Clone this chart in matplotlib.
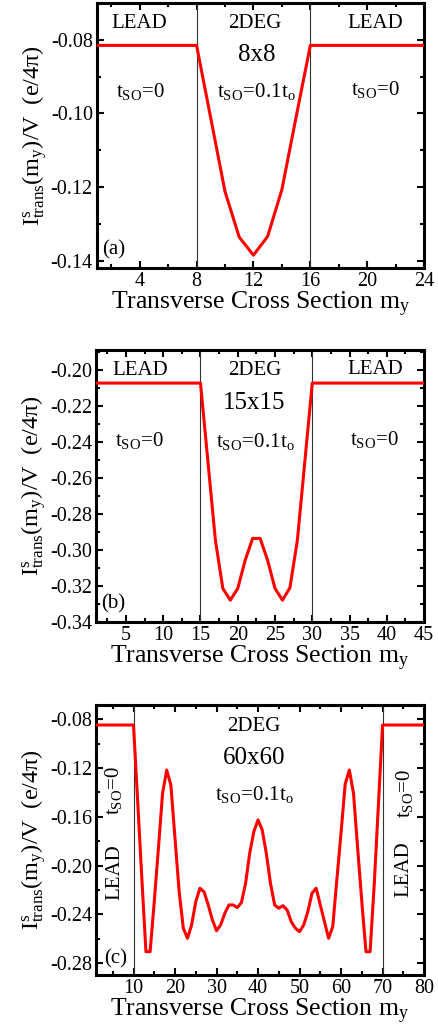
import numpy as np
import matplotlib
matplotlib.use('Agg')
import matplotlib.pyplot as plt
from matplotlib.ticker import MultipleLocator

plt.rcParams['font.family'] = 'Liberation Serif'
plt.rcParams['mathtext.fontset'] = 'custom'
plt.rcParams['mathtext.rm'] = 'Liberation Serif'
plt.rcParams['mathtext.it'] = 'Liberation Serif:italic'
plt.rcParams['axes.unicode_minus'] = False

# spin current across the transverse section, 8x8 sample
my_a = np.arange(1, 25)
I_a = [-0.0815, -0.0815, -0.0815, -0.0815, -0.0815, -0.0815, -0.0815, -0.0815,
       -0.1013, -0.1212, -0.1336, -0.1385, -0.1334, -0.1207, -0.1010, -0.0815,
       -0.0815, -0.0815, -0.0815, -0.0815, -0.0815, -0.0815, -0.0815, -0.0815]

# 15x15 sample
my_b = np.arange(1, 46)
I_b = [-0.2074] * 15 + [-0.2510, -0.2946, -0.3214, -0.3279, -0.3214, -0.3057, -0.2936,
                        -0.2936, -0.3057, -0.3214, -0.3279, -0.3210, -0.2946, -0.2510] + [-0.2074] * 16

# 60x60 sample
my_c = np.arange(1, 81)
I_c = [-0.0847] * 10 + [
    -0.1470, -0.2100, -0.2705, -0.2705, -0.2295, -0.1858, -0.1407, -0.1216, -0.1339, -0.1776,
    -0.2213, -0.2513, -0.2595, -0.2486, -0.2295, -0.2185, -0.2215, -0.2322, -0.2445, -0.2533,
    -0.2486, -0.2390, -0.2322, -0.2322, -0.2344, -0.2303, -0.2145, -0.1896, -0.1720, -0.1625,
    -0.1707, -0.1900, -0.2145, -0.2322, -0.2349, -0.2328, -0.2363, -0.2459, -0.2513, -0.2541,
    -0.2486, -0.2377, -0.2226, -0.2185, -0.2322, -0.2459, -0.2595, -0.2500, -0.2110, -0.1730,
    -0.1330, -0.1216, -0.1407, -0.1858, -0.2295, -0.2705, -0.2705, -0.2150, -0.1500] + [-0.0847] * 11

ylab = r'$\mathrm{I^{s}_{trans}(m_y)/V\ \ (e/4\pi)}$'
xlab = r'Transverse Cross Section $\mathrm{m_y}$'
tso0 = r'$\mathrm{t_{SO}\!=\!0}$'
tso1 = r'$\mathrm{t_{SO}\!=\!0.1t_o}$'

fig = plt.figure(figsize=(4.39, 10.25), dpi=100)
ax_a = fig.add_axes([0.221, 0.7385, 0.745, 0.2585])
ax_b = fig.add_axes([0.219, 0.3932, 0.747, 0.2654])
ax_c = fig.add_axes([0.219, 0.0488, 0.747, 0.2634])


def style(ax, xmaj, xmin, ymaj, ymin):
    ax.xaxis.set_major_locator(MultipleLocator(xmaj))
    ax.xaxis.set_minor_locator(MultipleLocator(xmin))
    ax.yaxis.set_major_locator(MultipleLocator(ymaj))
    ax.yaxis.set_minor_locator(MultipleLocator(ymin))
    ax.tick_params(which='both', direction='in', top=True, right=True, width=1.5)
    ax.tick_params(which='major', length=5, labelsize=14.5)
    ax.tick_params(which='minor', length=3)
    ax.tick_params(axis='x', pad=3)
    ax.tick_params(axis='y', pad=3)
    for s in ax.spines.values():
        s.set_linewidth(2.2)
    ax.set_xlabel(xlab, fontsize=18.5, labelpad=-1)
    ax.set_ylabel(ylab, fontsize=17.5, labelpad=1)


def regions(ax, x0, x1):
    # lead / scattering-region boundaries
    for xv in (x0, x1):
        ax.axvline(xv, color='#333333', lw=0.8)


# (a)
ax_a.plot(my_a, I_a, color='red', lw=2.2, zorder=3)
regions(ax_a, 8, 16)
ax_a.set_xlim(1, 24)
ax_a.set_ylim(-0.142, -0.07)
style(ax_a, 4, 2, 0.02, 0.01)
ax_a.text(4.0, -0.0755, 'LEAD', fontsize=15, ha='center', va='center')
ax_a.text(12.1, -0.0755, '2DEG', fontsize=15, ha='center', va='center')
ax_a.text(20.6, -0.0755, 'LEAD', fontsize=15, ha='center', va='center')
ax_a.text(12.2, -0.0841, '8x8', fontsize=18, ha='center', va='center')
ax_a.text(4.1, -0.094, tso0, fontsize=15, ha='center', va='center')
ax_a.text(12.2, -0.094, tso1, fontsize=15, ha='center', va='center')
ax_a.text(20.6, -0.0935, tso0, fontsize=15, ha='center', va='center')
ax_a.text(2.15, -0.137, '(a)', fontsize=15, ha='center', va='center')

# (b)
ax_b.plot(my_b, I_b, color='red', lw=2.2, zorder=3)
regions(ax_b, 15, 30)
ax_b.set_xlim(1, 45)
ax_b.set_ylim(-0.34, -0.189)
style(ax_b, 5, 2.5, 0.02, 0.01)
ax_b.text(6.9, -0.2004, 'LEAD', fontsize=15, ha='center', va='center')
ax_b.text(22.3, -0.2005, '2DEG', fontsize=15, ha='center', va='center')
ax_b.text(38.4, -0.2000, 'LEAD', fontsize=15, ha='center', va='center')
ax_b.text(22.2, -0.2185, '15x15', fontsize=18, ha='center', va='center')
ax_b.text(6.9, -0.239, tso0, fontsize=15, ha='center', va='center')
ax_b.text(22.3, -0.2396, tso1, fontsize=15, ha='center', va='center')
ax_b.text(38.4, -0.2385, tso0, fontsize=15, ha='center', va='center')
ax_b.text(3.3, -0.3297, '(b)', fontsize=15, ha='center', va='center')

# (c)
ax_c.plot(my_c, I_c, color='red', lw=2.2, zorder=3)
regions(ax_c, 10, 70)
ax_c.set_xlim(1, 80)
ax_c.set_ylim(-0.2896, -0.0683)
style(ax_c, 10, 5, 0.04, 0.02)
ax_c.text(39.1, -0.086, '2DEG', fontsize=15, ha='center', va='center')
ax_c.text(39.0, -0.112, '60x60', fontsize=18, ha='center', va='center')
ax_c.text(39.2, -0.142, tso1, fontsize=15, ha='center', va='center')
ax_c.text(5.6, -0.205, 'LEAD', fontsize=15, ha='center', va='center', rotation=90)
ax_c.text(5.2, -0.138, tso0, fontsize=15, ha='center', va='center', rotation=90)
ax_c.text(75.1, -0.203, 'LEAD', fontsize=15, ha='center', va='center', rotation=90)
ax_c.text(75.3, -0.1405, tso0, fontsize=15, ha='center', va='center', rotation=90)
ax_c.text(5.6, -0.276, '(c)', fontsize=15, ha='center', va='center')

fig.savefig('out.png', dpi=100)
